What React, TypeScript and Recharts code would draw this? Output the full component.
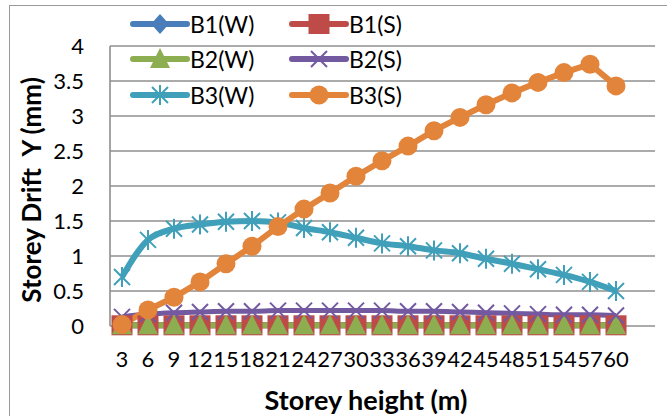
import { LineChart, Line, XAxis, YAxis, CartesianGrid, Legend } from 'recharts';

const heights = ['3', '6', '9', '12', '15', '18', '21', '24', '27', '30', '33', '36', '39', '42', '45', '48', '51', '54', '57', '60'];
const b1w = [0.01, 0.01, 0.01, 0.01, 0.01, 0.01, 0.01, 0.01, 0.01, 0.01, 0.01, 0.01, 0.01, 0.01, 0.01, 0.01, 0.01, 0.01, 0.01, 0.01];
const b1s = [0.01, 0.01, 0.01, 0.01, 0.01, 0.01, 0.01, 0.01, 0.01, 0.01, 0.01, 0.01, 0.01, 0.01, 0.01, 0.01, 0.01, 0.01, 0.01, 0.01];
const b2w = [0.01, 0.01, 0.01, 0.01, 0.01, 0.01, 0.01, 0.01, 0.01, 0.01, 0.01, 0.01, 0.01, 0.01, 0.01, 0.01, 0.01, 0.01, 0.01, 0.01];
const b2s = [0.13, 0.17, 0.19, 0.2, 0.21, 0.21, 0.22, 0.22, 0.22, 0.22, 0.22, 0.21, 0.21, 0.2, 0.19, 0.18, 0.17, 0.16, 0.16, 0.15];
const b3w = [0.7, 1.23, 1.39, 1.45, 1.49, 1.5, 1.48, 1.4, 1.34, 1.26, 1.18, 1.14, 1.08, 1.04, 0.96, 0.89, 0.81, 0.73, 0.63, 0.5];
const b3s = [0.02, 0.23, 0.41, 0.63, 0.89, 1.14, 1.42, 1.67, 1.9, 2.14, 2.36, 2.57, 2.79, 2.98, 3.16, 3.33, 3.48, 3.62, 3.74, 3.43];
const yTicks = [0, 0.5, 1, 1.5, 2, 2.5, 3, 3.5, 4];

const data = heights.map((h, i) => ({
  h,
  b1w: b1w[i],
  b1s: b1s[i],
  b2w: b2w[i],
  b2s: b2s[i],
  b3w: b3w[i],
  b3s: b3s[i],
}));

const FONT = 'Lato, "DejaVu Sans", sans-serif';

// series style: key, name, colour, marker
const series = [
  { key: 'b1w', name: 'B1(W)', color: '#4A7EBB', marker: 'diamond', type: 'linear' },
  { key: 'b1s', name: 'B1(S)', color: '#BE4B48', marker: 'square', type: 'linear' },
  { key: 'b2w', name: 'B2(W)', color: '#8CAE50', marker: 'triangle', type: 'linear' },
  { key: 'b2s', name: 'B2(S)', color: '#7359A0', marker: 'cross', type: 'monotone' },
  { key: 'b3w', name: 'B3(W)', color: '#40A0BA', marker: 'star', type: 'monotone' },
  { key: 'b3s', name: 'B3(S)', color: '#E3843B', marker: 'circle', type: 'linear' },
];

const Marker = ({ cx, cy, kind, color }: { cx: number; cy: number; kind: string; color: string }) => {
  if (kind === 'diamond') {
    return <path d={`M${cx},${cy - 10}L${cx + 9},${cy}L${cx},${cy + 10}L${cx - 9},${cy}Z`} fill={color} />;
  }
  if (kind === 'square') {
    return <rect x={cx - 10.5} y={cy - 10} width={21} height={20} fill={color} />;
  }
  if (kind === 'triangle') {
    return <path d={`M${cx},${cy - 11}L${cx + 10},${cy + 9}L${cx - 10},${cy + 9}Z`} fill={color} />;
  }
  if (kind === 'cross') {
    return (
      <path
        d={`M${cx - 8},${cy - 8}L${cx + 8},${cy + 8}M${cx + 8},${cy - 8}L${cx - 8},${cy + 8}`}
        stroke={color}
        strokeWidth={2}
        fill="none"
      />
    );
  }
  if (kind === 'star') {
    return (
      <path
        d={`M${cx - 8},${cy - 8}L${cx + 8},${cy + 8}M${cx + 8},${cy - 8}L${cx - 8},${cy + 8}M${cx},${cy - 10}L${cx},${cy + 10}`}
        stroke={color}
        strokeWidth={2}
        fill="none"
      />
    );
  }
  return <circle cx={cx} cy={cy} r={9.5} fill={color} />;
};

const LegendBox = () => (
  <div style={{ display: 'grid', gridTemplateColumns: '159px 160px', rowGap: 0, fontFamily: FONT, fontSize: 23 }}>
    {series.map((s) => (
      <div key={s.key} style={{ display: 'flex', alignItems: 'center', height: 35.5 }}>
        <svg width={58} height={30} style={{ overflow: 'visible' }}>
          <line x1={2} y1={15} x2={56} y2={15} stroke={s.color} strokeWidth={6} strokeLinecap="round" />
          <Marker cx={29} cy={15} kind={s.marker} color={s.color} />
        </svg>
        <span style={{ marginLeft: 1, color: '#000' }}>{s.name}</span>
      </div>
    ))}
  </div>
);

const App = () => {
  return (
    <div style={{ position: 'absolute', left: 0, top: 0, width: 667, height: 416, overflow: 'hidden', background: '#fff' }}>
      {/* 바깥 테두리 */}
      <div style={{ position: 'absolute', left: 9, top: 5, width: 700, height: 500, border: '1.5px solid #9a9a9a' }} />
      <LineChart width={667} height={416} data={data} margin={{ top: 46, right: 12, left: 0, bottom: 0 }}>
        <CartesianGrid stroke="#8f8f8f" strokeWidth={1.6} vertical={false} />
        <XAxis
          dataKey="h"
          interval={0}
          height={90}
          padding={{ left: 12, right: 39 }}
          axisLine={false}
          tickLine={false}
          tickSize={0}
          tickMargin={25}
          tick={{ fill: '#000', fontSize: 22, fontFamily: FONT }}
        />
        <YAxis
          domain={[0, 4]}
          ticks={yTicks}
          width={110}
          axisLine={{ stroke: '#8f8f8f', strokeWidth: 1.6 }}
          tickLine={false}
          tickSize={0}
          tickMargin={26}
          tick={{ fill: '#000', fontSize: 22, fontFamily: FONT }}
        />
        <Legend
          layout="horizontal"
          verticalAlign="middle"
          content={<LegendBox />}
          wrapperStyle={{ top: 6, left: 131, width: 330, height: 110 }}
        />
        {series.map((s) => (
          <Line
            key={s.key}
            dataKey={s.key}
            name={s.name}
            type={s.type as 'linear' | 'monotone'}
            stroke={s.color}
            strokeWidth={s.key === 'b2s' ? 5 : 6}
            isAnimationActive={false}
            activeDot={false}
            dot={(p: any) => <Marker key={`${s.key}-${p.index}`} cx={p.cx} cy={p.cy} kind={s.marker} color={s.color} />}
          />
        ))}
      </LineChart>
      {/* 축 제목 */}
      <div
        style={{
          position: 'absolute',
          left: 366,
          top: 399,
          transform: 'translate(-50%, -50%)',
          fontFamily: FONT,
          fontWeight: 700,
          fontSize: 27,
          whiteSpace: 'nowrap',
          color: '#000',
        }}
      >
        Storey height (m)
      </div>
      <div
        style={{
          position: 'absolute',
          left: 31,
          top: 190,
          transform: 'translate(-50%, -50%) rotate(-90deg)',
          fontFamily: FONT,
          fontWeight: 700,
          fontSize: 26,
          whiteSpace: 'pre',
          color: '#000',
        }}
      >
        {'Storey Drift  Y (mm)'}
      </div>
    </div>
  );
};

export default App;
